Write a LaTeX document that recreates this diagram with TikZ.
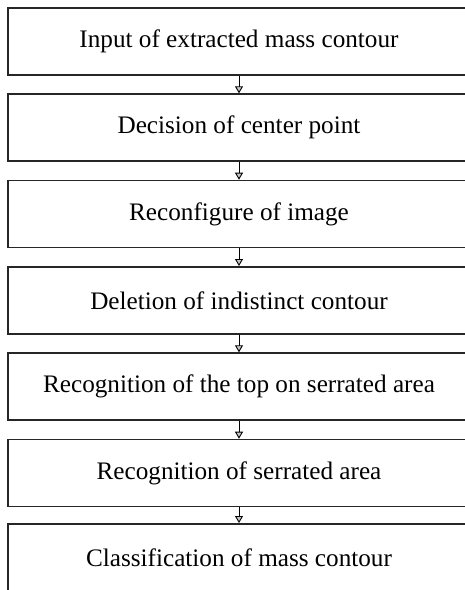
\documentclass[tikz,border=0pt]{standalone}
\usepackage{fontspec}
\setmainfont{Liberation Serif}
\usetikzlibrary{arrows.meta}
\begin{document}
\begin{tikzpicture}[x=1pt,y=1pt,
  stepbox/.style={draw=black!85, line width=1.6pt, minimum width=462pt, minimum height=67pt,
    inner sep=0pt, anchor=north, font=\fontsize{25.2}{29}\selectfont},
  flow/.style={line width=0.8pt, -{Triangle[open, width=8pt, length=7pt, line width=0.9pt, fill=gray!45]}}]
\useasboundingbox (0,0) rectangle (464,-590);
\node[stepbox] (b1) at (239,-7) {Input of extracted mass contour};
\node[stepbox] (b2) at (239,-93.3) {Decision of center point};
\node[stepbox] (b3) at (239,-179.7) {Reconfigure of image};
\node[stepbox] (b4) at (239,-266) {Deletion of indistinct contour};
\node[stepbox] (b5) at (239,-352.3) {Recognition of the top on serrated area};
\node[stepbox] (b6) at (239,-438.7) {Recognition of serrated area};
\node[stepbox] (b7) at (239,-523) {Classification of mass contour};
\draw[flow] (b1.south) -- (b2.north);
\draw[flow] (b2.south) -- (b3.north);
\draw[flow] (b3.south) -- (b4.north);
\draw[flow] (b4.south) -- (b5.north);
\draw[flow] (b5.south) -- (b6.north);
\draw[flow] (b6.south) -- (b7.north);
\end{tikzpicture}
\end{document}
